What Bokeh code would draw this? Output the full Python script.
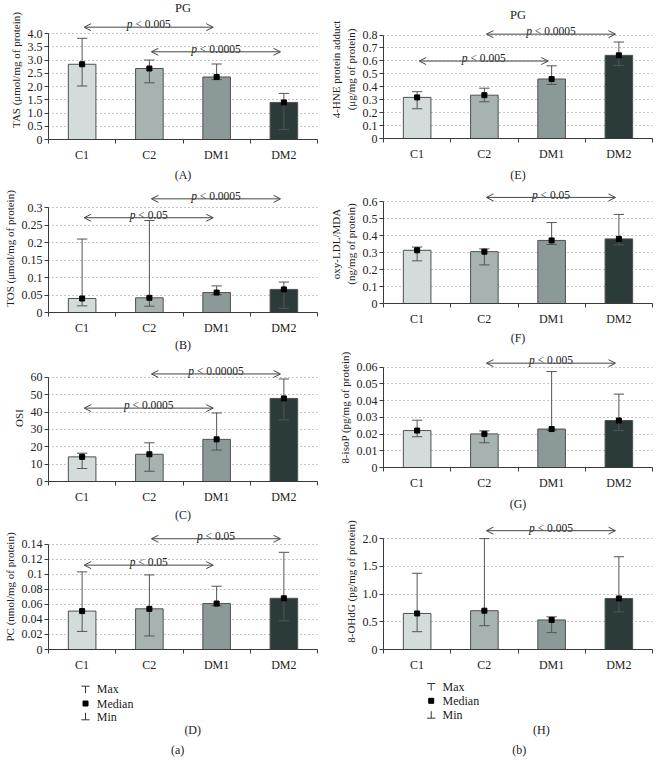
from bokeh.plotting import figure
from bokeh.layouts import row, column
from bokeh.models import Range1d, FixedTicker, Arrow, OpenHead
from bokeh.core.properties import value
from bokeh.embed import file_html
from bokeh.resources import INLINE

# ---------------- data ----------------
categories = ["C1", "C2", "DM1", "DM2"]

tas_median = [2.84, 2.68, 2.36, 1.40]
tas_max = [3.82, 3.00, 2.85, 1.74]
tas_min = [2.02, 2.14, 2.26, 0.38]
tas_ticks = [0, 0.5, 1.0, 1.5, 2.0, 2.5, 3.0, 3.5, 4.0]
tas_tick_labels = ["0", "0.5", "1.0", "1.5", "2.0", "2.5", "3.0", "3.5", "4.0"]
tas_brackets = [(0, 2, 4.24, "0.005"), (1, 3, 3.31, "0.0005")]

tos_median = [0.040, 0.042, 0.057, 0.066]
tos_max = [0.210, 0.263, 0.076, 0.087]
tos_min = [0.019, 0.018, 0.051, 0.012]
tos_ticks = [0, 0.05, 0.1, 0.15, 0.2, 0.25, 0.3]
tos_tick_labels = ["0", "0.05", "0.1", "0.15", "0.2", "0.25", "0.3"]
tos_brackets = [(1, 3, 0.325, "0.0005"), (0, 2, 0.271, "0.05")]

osi_median = [14.2, 15.7, 24.3, 47.9]
osi_max = [16.3, 22.3, 39.5, 59.1]
osi_min = [7.5, 5.9, 18.1, 35.5]
osi_ticks = [0, 10, 20, 30, 40, 50, 60]
osi_tick_labels = ["0", "10", "20", "30", "40", "50", "60"]
osi_brackets = [(1, 3, 62.0, "0.00005"), (0, 2, 42.3, "0.0005")]

pc_median = [0.051, 0.054, 0.061, 0.068]
pc_max = [0.103, 0.099, 0.084, 0.129]
pc_min = [0.024, 0.018, 0.058, 0.038]
pc_ticks = [0, 0.02, 0.04, 0.06, 0.08, 0.1, 0.12, 0.14]
pc_tick_labels = ["0", "0.02", "0.04", "0.06", "0.08", "0.1", "0.12", "0.14"]
pc_brackets = [(1, 3, 0.147, "0.05"), (0, 2, 0.112, "0.05")]

hne_median = [0.318, 0.335, 0.460, 0.643]
hne_max = [0.362, 0.389, 0.562, 0.746]
hne_min = [0.230, 0.284, 0.418, 0.565]
hne_ticks = [0, 0.1, 0.2, 0.3, 0.4, 0.5, 0.6, 0.7, 0.8]
hne_tick_labels = ["0", "0.1", "0.2", "0.3", "0.4", "0.5", "0.6", "0.7", "0.8"]
hne_brackets = [(1, 3, 0.807, "0.0005"), (0, 2, 0.599, "0.005")]

oxy_median = [0.313, 0.305, 0.371, 0.380]
oxy_max = [0.332, 0.321, 0.476, 0.524]
oxy_min = [0.251, 0.227, 0.347, 0.345]
oxy_ticks = [0, 0.1, 0.2, 0.3, 0.4, 0.5, 0.6]
oxy_tick_labels = ["0", "0.1", "0.2", "0.3", "0.4", "0.5", "0.6"]
oxy_brackets = [(1, 3, 0.624, "0.05")]

isop_median = [0.0221, 0.0201, 0.0230, 0.0281]
isop_max = [0.0283, 0.0219, 0.0574, 0.0439]
isop_min = [0.0184, 0.0148, 0.0223, 0.0221]
isop_ticks = [0, 0.01, 0.02, 0.03, 0.04, 0.05, 0.06]
isop_tick_labels = ["0", "0.01", "0.02", "0.03", "0.04", "0.05", "0.06"]
isop_brackets = [(1, 3, 0.0624, "0.005")]

ohdg_median = [0.650, 0.700, 0.533, 0.920]
ohdg_max = [1.375, 2.000, 0.589, 1.673]
ohdg_min = [0.321, 0.429, 0.304, 0.679]
ohdg_ticks = [0, 0.5, 1.0, 1.5, 2.0]
ohdg_tick_labels = ["0", "0.5", "1.0", "1.5", "2.0"]
ohdg_brackets = [(1, 3, 2.143, "0.005")]

legend_labels = ["Max", "Median", "Min"]

# ---------------- style ----------------
FONT = "Liberation Serif"
BAR_COLORS = ["#d3dcdb", "#a7b3b1", "#8b9a98", "#2b3b39"]
EDGE = "#505050"
WHISK = "#555555"
AXIS = "#3a3a3a"
ARROW = "#444444"
TXT = "#222222"

# Times-like advance widths (em) for the p-value strings
CW = {"p": 0.5, " ": 0.25, "<": 0.564, ".": 0.25}


def text_w(s, size):
    return sum(CW.get(c, 0.5) for c in s) * size


def make_panel(d, lay):
    top, bottom, zero, max_y = lay["top"], lay["bottom"], lay["zero"], lay["max_y"]
    ticks = d["ticks"]
    tmax = ticks[-1]
    upp = tmax / (zero - max_y)
    y_end = (zero - top) * upp
    p = figure(width=lay["width"], height=bottom - top,
               x_range=Range1d(0, 4), y_range=Range1d(0, y_end),
               output_backend="svg", toolbar_location=None, title=None,
               min_border_top=0, min_border_left=lay["left"],
               min_border_right=lay["right"], min_border_bottom=bottom - zero)
    p.outline_line_color = None
    p.background_fill_color = "white"
    p.border_fill_color = "white"

    # x axis: category labels at centres, small ticks at the boundaries
    xa = p.xaxis[0]
    xa.ticker = FixedTicker(ticks=[i + 0.5 for i in range(4)], minor_ticks=[0, 1, 2, 3, 4])
    xa.major_label_overrides = {i + 0.5: c for i, c in enumerate(categories)}
    xa.major_tick_out = 0
    xa.major_tick_in = 0
    xa.minor_tick_out = 4
    xa.minor_tick_in = 0
    xa.minor_tick_line_color = AXIS
    xa.axis_line_color = AXIS
    xa.major_label_standoff = lay.get("xstand", 4)
    xa.major_label_text_font = FONT
    xa.major_label_text_font_size = "12px"
    xa.major_label_text_color = TXT
    if lay.get("xlabel"):
        xa.axis_label = lay["xlabel"]
        xa.axis_label_text_font = FONT
        xa.axis_label_text_font_size = "12px"
        xa.axis_label_text_font_style = "normal"
        xa.axis_label_text_color = TXT
        xa.axis_label_standoff = lay.get("xlstand", 3)

    # y axis
    ya = p.yaxis[0]
    ya.ticker = FixedTicker(ticks=ticks)
    ya.major_label_overrides = dict(zip(ticks, d["tick_labels"]))
    ya.bounds = (0, tmax)
    ya.major_tick_out = 4
    ya.major_tick_in = 0
    ya.minor_tick_out = 0
    ya.minor_tick_in = 0
    ya.major_tick_line_color = AXIS
    ya.axis_line_color = AXIS
    ya.major_label_standoff = 2
    ya.major_label_text_font = FONT
    ya.major_label_text_font_size = "12px"
    ya.major_label_text_color = TXT
    ya.axis_label = d["ylabel"]
    ya.axis_label_text_font = FONT
    ya.axis_label_text_font_size = "11px"
    ya.axis_label_text_font_style = "normal"
    ya.axis_label_text_color = TXT
    ya.axis_label_standoff = lay.get("ylstand", 3)

    p.xgrid.visible = False
    p.ygrid.ticker = FixedTicker(ticks=ticks[1:])
    p.ygrid.grid_line_color = "#8c8c8c"
    p.ygrid.grid_line_dash = "1 3"
    p.ygrid.grid_line_width = 1

    xs = [i + 0.5 for i in range(len(categories))]
    med, vmax, vmin = d["median"], d["max"], d["min"]
    p.vbar(x=xs, top=med, bottom=0, width=0.41, fill_color=BAR_COLORS,
           line_color=EDGE, line_width=1)
    p.segment(x0=xs, y0=vmin, x1=xs, y1=vmax, line_color=WHISK, line_width=1)
    cap = 0.077
    p.segment(x0=[x - cap for x in xs], y0=vmax, x1=[x + cap for x in xs], y1=vmax,
              line_color=WHISK, line_width=1)
    p.segment(x0=[x - cap for x in xs], y0=vmin, x1=[x + cap for x in xs], y1=vmin,
              line_color=WHISK, line_width=1)
    p.scatter(x=xs, y=med, marker="square", size=5, fill_color="black", line_color="black")

    fs = 11.5
    for (i, j, yv, ptxt) in d["brackets"]:
        x0 = i + 0.5 + 0.03
        x1 = j + 0.5 - 0.05
        p.add_layout(Arrow(x_start=x0, y_start=yv, x_end=x1, y_end=yv,
                           start=OpenHead(size=7, line_color=ARROW, line_width=1),
                           end=OpenHead(size=7, line_color=ARROW, line_width=1),
                           line_color=ARROW, line_width=1))
        rest = "< " + ptxt
        total = text_w("p ", fs) + text_w(rest, fs)
        mid = (x0 + x1) / 2
        left = -total / 2
        ty = yv + 3.0 * upp  # baseline 3 px above the arrow
        p.text(x=[mid], y=[ty], text=["p"], text_font=value(FONT),
               text_font_style="italic", text_font_size=f"{fs}px",
               text_align="left", text_baseline="alphabetic",
               x_offset=left, text_color=TXT)
        p.text(x=[mid], y=[ty], text=[rest], text_font=value(FONT),
               text_font_size=f"{fs}px", text_align="left",
               text_baseline="alphabetic", x_offset=left + text_w("p ", fs),
               text_color=TXT)

    if lay.get("title_y") is not None:
        ty = (zero - lay["title_y"]) * upp
        p.text(x=[2.0], y=[ty], text=["PG"], text_font=value(FONT),
               text_font_size="12.5px", text_align="center", text_baseline="top",
               text_color=TXT)
    return p


def make_caption(lay):
    W, H = lay["width"], lay["height"]
    p = figure(width=W, height=H, x_range=Range1d(0, W), y_range=Range1d(H, 0),
               x_axis_type=None, y_axis_type=None, output_backend="svg",
               toolbar_location=None, title=None, min_border=0,
               min_border_left=0, min_border_right=0, min_border_top=0, min_border_bottom=0)
    p.outline_line_color = None
    p.grid.visible = False
    sx = lay["sx"]
    ys = lay["ys"]
    col = "#333333"
    # Max symbol (T)
    p.segment(x0=[sx - 5, sx], y0=[ys[0] - 3, ys[0] - 3], x1=[sx + 5, sx], y1=[ys[0] - 3, ys[0] + 4],
              line_color=col, line_width=1)
    # Median symbol
    p.scatter(x=[sx], y=[ys[1]], marker="square", size=5, fill_color="black", line_color="black")
    # Min symbol (inverted T)
    p.segment(x0=[sx - 5, sx], y0=[ys[2] + 3, ys[2] - 4], x1=[sx + 5, sx], y1=[ys[2] + 3, ys[2] + 3],
              line_color=col, line_width=1)
    p.text(x=[lay["tx"]] * 3, y=ys, text=legend_labels, text_font=value(FONT),
           text_font_size="12px", text_align="left", text_baseline="middle",
           text_color=TXT)
    p.text(x=[lay["px"], lay["sub_x"]], y=[lay["py"], lay["sub_y"]],
           text=[lay["plabel"], lay["sub"]], text_font=value(FONT),
           text_font_size="12px", text_align="center", text_baseline="middle",
           text_color=TXT)
    return p


panels_left = [
    (dict(ylabel="TAS (μmol/mg of protein)", ticks=tas_ticks, tick_labels=tas_tick_labels,
          median=tas_median, max=tas_max, min=tas_min, brackets=tas_brackets),
     dict(width=327, left=42, right=10, top=8, bottom=192, zero=154, max_y=42.7,
          xlabel="(A)", xlstand=3, title_y=8.5)),
    (dict(ylabel="TOS (μmol/mg of protein)", ticks=tos_ticks, tick_labels=tos_tick_labels,
          median=tos_median, max=tos_max, min=tos_min, brackets=tos_brackets),
     dict(width=327, left=42, right=10, top=192, bottom=362, zero=329, max_y=216.7,
          xlabel="(B)", xlstand=0)),
    (dict(ylabel="OSI", ticks=osi_ticks, tick_labels=osi_tick_labels,
          median=osi_median, max=osi_max, min=osi_min, brackets=osi_brackets),
     dict(width=327, left=42, right=10, top=362, bottom=532, zero=495, max_y=386,
          xlabel="(C)", xlstand=1)),
    (dict(ylabel="PC (nmol/mg of protein)", ticks=pc_ticks, tick_labels=pc_tick_labels,
          median=pc_median, max=pc_max, min=pc_min, brackets=pc_brackets),
     dict(width=327, left=42, right=10, top=532, bottom=682, zero=660, max_y=552)),
]

panels_right = [
    (dict(ylabel="4-HNE protein adduct\n(μg/mg of protein)", ticks=hne_ticks,
          tick_labels=hne_tick_labels, median=hne_median, max=hne_max, min=hne_min,
          brackets=hne_brackets),
     dict(width=327, left=54, right=2, top=8, bottom=192, zero=153, max_y=44.3,
          xlabel="(E)", xlstand=4, title_y=16)),
    (dict(ylabel="oxy-LDL/MDA\n(ng/mg of protein)", ticks=oxy_ticks, tick_labels=oxy_tick_labels,
          median=oxy_median, max=oxy_max, min=oxy_min, brackets=oxy_brackets),
     dict(width=327, left=53, right=2, top=192, bottom=355, zero=318, max_y=210,
          xlabel="(F)", xlstand=2)),
    (dict(ylabel="8-isoP (pg/mg of protein)", ticks=isop_ticks, tick_labels=isop_tick_labels,
          median=isop_median, max=isop_max, min=isop_min, brackets=isop_brackets),
     dict(width=327, left=54, right=2, top=355, bottom=521, zero=483, max_y=376,
          xlabel="(G)", xlstand=4)),
    (dict(ylabel="8-OHdG (pg/mg of protein)", ticks=ohdg_ticks, tick_labels=ohdg_tick_labels,
          median=ohdg_median, max=ohdg_max, min=ohdg_min, brackets=ohdg_brackets),
     dict(width=327, left=54, right=2, top=521, bottom=682, zero=658, max_y=546.3)),
]

cap_left = dict(width=327, height=86, sx=45, ys=[14.7, 29, 42.3], tx=58.7,
                px=175.3, py=55, plabel="(D)", sub_x=157, sub_y=75, sub="(a)")
cap_right = dict(width=327, height=86, sx=58, ys=[12, 26.3, 40.7], tx=71.7,
                 px=192, py=55, plabel="(H)", sub_x=165, sub_y=75, sub="(b)")

left_col = column([make_panel(d, l) for d, l in panels_left] + [make_caption(cap_left)], spacing=0)
right_col = column([make_panel(d, l) for d, l in panels_right] + [make_caption(cap_right)], spacing=0)
layout = row(left_col, right_col, spacing=0)

open("out.html", "w").write(file_html(layout, INLINE))
